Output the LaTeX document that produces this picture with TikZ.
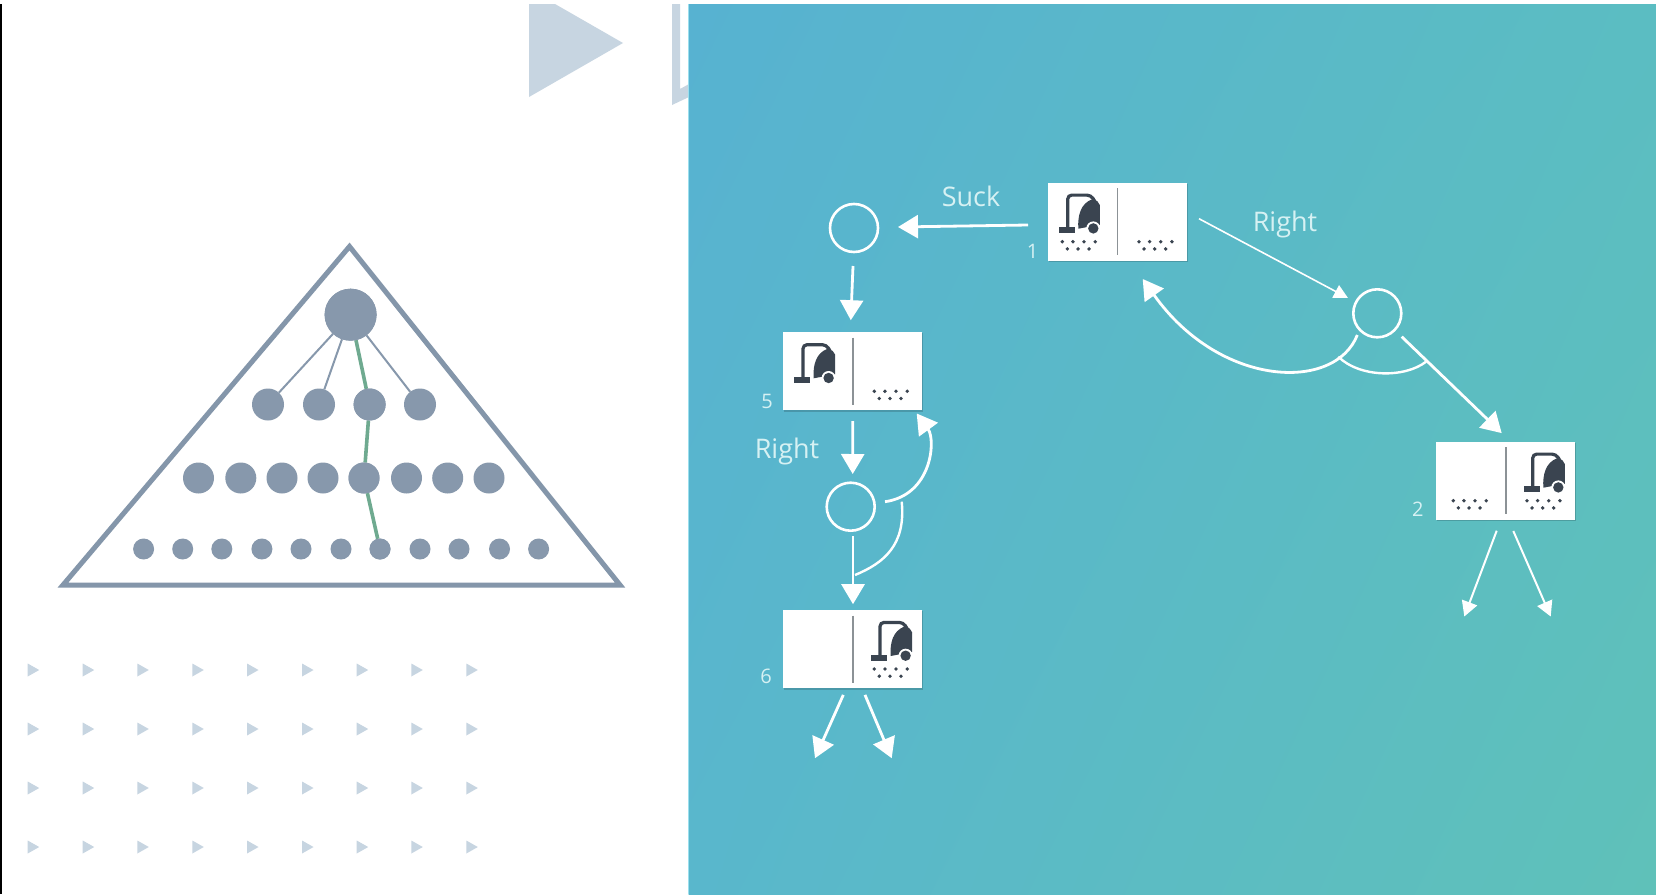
\documentclass[tikz,border=0pt]{standalone}
\usepackage{fontspec}
\setmainfont{Open Sans}
\usetikzlibrary{arrows.meta,shapes.geometric,shadings}
\definecolor{slateg}{HTML}{8798AC}
\definecolor{triline}{HTML}{8496AA}
\definecolor{pathgreen}{HTML}{6FAA90}
\definecolor{palet}{HTML}{C7D5E1}
\definecolor{ink}{HTML}{3A4450}
\definecolor{divg}{HTML}{8C9296}
\definecolor{labelc}{HTML}{D6F1F3}
\definecolor{tealTL}{HTML}{57B2D1}
\definecolor{tealTR}{HTML}{5BBDC2}
\definecolor{tealBL}{HTML}{59B7CC}
\definecolor{tealBR}{HTML}{5FC1B9}
\definecolor{edgecy}{HTML}{9ADFEE}
\tikzset{
  x=1pt,y=-1pt,
  statebox/.style={rectangle,fill=white,minimum width=139pt,minimum height=78pt,inner sep=0pt,outer sep=0pt},
  chance/.style={circle,draw=white,line width=2.6pt,minimum size=48pt,inner sep=0pt,outer sep=0pt},
  big/.style={draw=white,line width=2.8pt,-{Triangle[length=20pt,width=23pt]}},
  mid/.style={draw=white,line width=2pt,-{Triangle[length=15pt,width=16pt]}},
  thin/.style={draw=white,line width=1.6pt,-{Triangle[length=14pt,width=14pt]}},
  arc/.style={draw=white,line width=2.4pt},
  lab/.style={text=labelc,font=\fontsize{27}{30}\selectfont,inner sep=0pt},
  num/.style={text=labelc,font=\fontsize{20}{22}\selectfont,inner sep=0pt},
  big1/.style={circle,fill=slateg,minimum size=52pt,inner sep=0pt,outer sep=0pt},
  big2/.style={circle,fill=slateg,minimum size=32pt,inner sep=0pt,outer sep=0pt},
  big3/.style={circle,fill=slateg,minimum size=31pt,inner sep=0pt,outer sep=0pt},
  big4/.style={circle,fill=slateg,minimum size=21pt,inner sep=0pt,outer sep=0pt},
  treeedge/.style={draw=slateg,line width=2pt},
  greenedge/.style={draw=pathgreen,line width=3.6pt},
}
% vacuum icon, origin = top-left corner of the box
\newcommand{\vacicon}[2]{%
  \begin{scope}[shift={(#1,#2)}]
    \fill[ink] (11,44.7) rectangle (27,50.7);
    \draw[ink,line width=3.2pt,rounded corners=4pt] (19.7,46) -- (19.7,12.4) -- (43,12.4) -- (47,19);
    \fill[ink] (30.3,46) .. controls (29.5,32) and (33,21) .. (43.7,16.7) -- (49.3,18.5) -- (51.8,22.3) -- (51.8,42) -- (30.3,46) -- cycle;
    \fill[white] (45.3,45.7) circle (7);
    \fill[ink] (45.3,45.7) circle (5.2);
  \end{scope}}
\newcommand{\dirt}[3]{%
  \begin{scope}[shift={(#1+#3,#2)}]
    \foreach \dx in {0,10.6,21.7,32.9} \fill[ink] (\dx,59) circle (1.9);
    \foreach \dx in {5,15.7,26.7} \fill[ink] (\dx,66.2) circle (1.9);
  \end{scope}}
\newcommand{\boxshadow}[2]{\fill[black!60!tealBL,opacity=.28] (#1+1,#2+1) rectangle (#1+140,#2+79.5);}
\begin{document}
\begin{tikzpicture}
\useasboundingbox (0,0) rectangle (1656,894);
\fill[white] (0,0) rectangle (1656,894);
\fill[black] (0,4) rectangle (2,894);
% decorative triangles
\fill[palet] (529,4) -- (555,4) -- (623,43) -- (529,97) -- cycle;
\fill[palet] (672,4) -- (680,4) -- (680,89) -- (689,84) -- (689,97) -- (672,105) -- cycle;
\foreach \yy in {670,729,788,847}
  \foreach \xx in {27.7,82.7,137.3,192.3,247,302,356.7,411.3,466.3}
    \fill[palet] (\xx,\yy-6.5) -- (\xx+11.5,\yy) -- (\xx,\yy+6.5) -- cycle;
% blue panel
\shade[upper left=tealTL,upper right=tealTR,lower left=tealBL,lower right=tealBR] (688.5,4) rectangle (1656,894);
\draw[edgecy,line width=1pt] (688.5,4) -- (688.5,894);
% tree triangle
\draw[triline,line width=5pt,fill=white,line join=miter] (349.5,246.5) -- (620,585) -- (63,585) -- cycle;
\node[big1] (r) at (350.6,314.7) {};
\foreach \n/\xx in {a/268,b/319,c/369.6,d/420} \node[big2] (s\n) at (\xx,404.5) {};
\foreach \n/\xx in {1/198.5,2/240.8,3/282,4/323,5/364,6/406.5,7/447.7,8/489} \node[big3] (t\n) at (\xx,478) {};
\foreach \n/\xx in {1/143.6,2/182.7,3/221.8,4/261.9,5/301,6/341,7/380,8/420,9/459,10/499.5,11/538.6} \node[big4] (u\n) at (\xx,549) {};
\draw[treeedge] (r) -- (sa);
\draw[treeedge] (r) -- (sb);
\draw[treeedge] (r) -- (sd);
\draw[greenedge] (r) -- (sc);
\draw[greenedge] (sc) -- (t5);
\draw[greenedge] (t5) -- (u7);
\fill[slateg] (r) circle (26);
\fill[slateg] (sc) circle (16);
\fill[slateg] (t5) circle (15.5);
\fill[slateg] (u7) circle (10.5);
% state boxes
\boxshadow{1048}{182.7}
\boxshadow{783.3}{332.3}
\boxshadow{1436}{441.7}
\boxshadow{783.3}{610}
\node[statebox] (b1) at (1117.5,221.7) {};
\node[statebox] (b5) at (852.8,371.2) {};
\node[statebox] (b2) at (1505.5,480.5) {};
\node[statebox] (b6) at (852.8,649.2) {};
\foreach \cx/\cy in {1117.3/221.5,852.7/371.2,1505.7/480.5,852.7/649.2}
  \draw[divg,line width=1.6pt] (\cx,\cy-33.5) -- (\cx,\cy+33.5);
\vacicon{1048}{182.7}
\dirt{1048}{182.7}{14.3}
\dirt{1048}{182.7}{91}
\vacicon{783.3}{332.3}
\dirt{783.3}{332.3}{91}
\dirt{1436}{441.7}{17.3}
\vacicon{1513}{441.7}
\dirt{1436}{441.7}{91}
\vacicon{860.3}{610}
\dirt{783.3}{610}{91}
% chance nodes
\node[chance] (c0) at (854,228) {};
\node[chance] (c1) at (1377.3,313.3) {};
\node[chance] (c5) at (850.7,506.7) {};
% connectors
\draw[big] ([shift={(-20,3.3)}]b1.west) -- ([shift={(20,-1)}]c0.east);
\draw[thin] ([shift={(12,-3)}]b1.east) -- ([shift={(-5.3,-15.3)}]c1.west);
\draw[big] ([shift={(-1,14)}]c0.south) -- ([shift={(-2,-12)}]b5.north);
\draw[big] ([shift={(0,11)}]b5.south) -- ([shift={(2,-8.7)}]c5.north);
\draw[big] ([shift={(2.3,5.3)}]c5.south) -- ([shift={(0.2,-6)}]b6.north);
\draw[big] ([shift={(10.3,-5)}]c5.east) .. controls (932,495) and (936,440) .. ([shift={(-5.6,3.3)}]b5.south east);
\draw[arc] ([shift={(27,-5)}]c5.east) .. controls (906,545) and (884,563) .. ([shift={(4.3,44.3)}]c5.south);
\draw[big] ([shift={(-20,-2.3)}]c1.south) .. controls (1335,392) and (1220,388) .. ([shift={(94.7,18.3)}]b1.south west);
\draw[arc] ([shift={(-39,19.4)}]c1.south) .. controls (1360,378) and (1405,378) .. ([shift={(24.7,48.4)}]c1.east);
\draw[big] ([shift={(0.4,23.4)}]c1.east) -- ([shift={(-3.8,-8.4)}]b2.north);
\draw[mid] ([shift={(-8.8,11.2)}]b2.south) -- ([shift={(-41.2,97)}]b2.south);
\draw[mid] ([shift={(7.8,11.5)}]b2.south) -- ([shift={(45.2,97)}]b2.south);
\draw[big] ([shift={(-9.5,6.7)}]b6.south) -- ([shift={(-37.8,70)}]b6.south);
\draw[big] ([shift={(12.2,6.7)}]b6.south) -- ([shift={(38.9,70)}]b6.south);
% labels
\node[lab] (lsuck) at (971,196) {Suck};
\node[lab] (lright1) at (1285,224) {Right};
\node[lab] (lright2) at (787,451) {Right};
\node[num] (n1) at (1032.7,251) {1};
\node[num] (n5) at (767,401.5) {5};
\node[num] (n2) at (1417.7,509.3) {2};
\node[num] (n6) at (766,676) {6};
\end{tikzpicture}
\end{document}
